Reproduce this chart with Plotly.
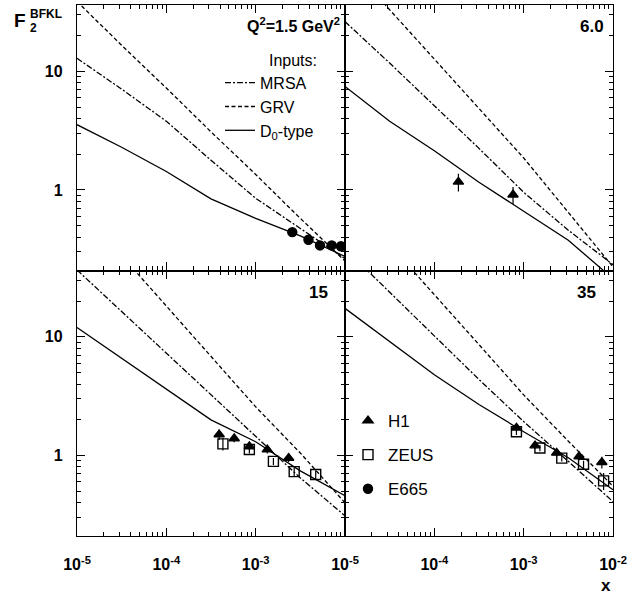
import plotly.graph_objects as go

# ---------------- data ----------------
X_CURVE = [1e-5, 3.16e-5, 1e-4, 3.16e-4, 1e-3, 3.16e-3, 1e-2]

# Q^2 = 1.5 GeV^2
MRSA_Q1 = [12.9, 7.08, 3.80, 1.78, 0.85, 0.47, 0.263]
GRV_Q1 = [38.9, 16.6, 7.24, 3.09, 1.35, 0.575, 0.251]
D0_Q1 = [3.55, 2.29, 1.43, 0.84, 0.575, 0.41, 0.275]

# Q^2 = 6.0
MRSA_Q2 = [26.3, 11.75, 5.13, 2.24, 0.955, 0.457, 0.234]
GRV_Q2 = [89.1, 33.1, 12.7, 4.85, 1.86, 0.646, 0.224]
D0_Q2 = [7.46, 3.80, 2.14, 1.16, 0.661, 0.376, 0.178]

# Q^2 = 15
MRSA_Q3 = [36.7, 16.4, 7.33, 3.25, 1.445, 0.646, 0.309]
GRV_Q3 = [129.0, 48.4, 18.2, 6.87, 2.57, 1.047, 0.398]
D0_Q3 = [12.0, 6.61, 3.63, 1.995, 1.303, 0.741, 0.457]

# Q^2 = 35
MRSA_Q4 = [55.6, 24.0, 10.2, 4.37, 1.93, 0.891, 0.407]
GRV_Q4 = [158.0, 60.3, 22.9, 8.61, 3.24, 1.318, 0.55]
D0_Q4 = [17.4, 9.12, 4.79, 2.69, 1.585, 0.955, 0.513]

PANEL_LABELS = ["<b>Q<sup>2</sup>=1.5 GeV<sup>2</sup></b>", "<b>6.0</b>", "<b>15</b>", "<b>35</b>"]

# measurements
E665_X_Q1 = [2.57e-3, 3.9e-3, 5.25e-3, 7.1e-3, 9.0e-3]
E665_Y_Q1 = [0.44, 0.38, 0.34, 0.34, 0.335]
E665_E_Q1 = [0.02, 0.02, 0.02, 0.02, 0.02]

H1_X_Q2 = [1.86e-4, 7.6e-4]
H1_Y_Q2 = [1.17, 0.91]
H1_E_Q2 = [0.2, 0.15]

H1_X_Q3 = [3.9e-4, 5.75e-4, 8.5e-4, 1.35e-3, 2.34e-3]
H1_Y_Q3 = [1.50, 1.39, 1.19, 1.12, 0.95]
H1_E_Q3 = [0.15, 0.10, 0.08, 0.08, 0.07]
ZEUS_X_Q3 = [4.3e-4, 8.5e-4, 1.58e-3, 2.7e-3, 4.7e-3]
ZEUS_Y_Q3 = [1.25, 1.12, 0.89, 0.73, 0.69]
ZEUS_E_Q3 = [0.15, 0.08, 0.06, 0.06, 0.06]

H1_X_Q4 = [8.3e-4, 1.34e-3, 2.34e-3, 4.17e-3, 7.5e-3]
H1_Y_Q4 = [1.71, 1.21, 1.05, 0.98, 0.875]
H1_E_Q4 = [0.10, 0.08, 0.07, 0.07, 0.10]
ZEUS_X_Q4 = [8.3e-4, 1.52e-3, 2.67e-3, 4.68e-3, 7.85e-3]
ZEUS_Y_Q4 = [1.585, 1.156, 0.948, 0.841, 0.61]
ZEUS_E_Q4 = [0.10, 0.07, 0.06, 0.06, 0.10]

X_TICKS = [1e-5, 1e-4, 1e-3, 1e-2]
X_TICKTEXT = ["10<sup>-5</sup>", "10<sup>-4</sup>", "10<sup>-3</sup>", "10<sup>-2</sup>"]
Y_TICKS = [1, 10]
Y_TICKTEXT = ["1", "10"]

# ---------------- figure ----------------
FONT = "Liberation Sans, Arial, Helvetica, sans-serif"
W, H = 641, 596
ML, MR, MT, MB = 77, 28, 5, 60

fig = go.Figure()

panels = [
    ("x", "y", MRSA_Q1, GRV_Q1, D0_Q1),
    ("x2", "y2", MRSA_Q2, GRV_Q2, D0_Q2),
    ("x3", "y3", MRSA_Q3, GRV_Q3, D0_Q3),
    ("x4", "y4", MRSA_Q4, GRV_Q4, D0_Q4),
]
curve_styles = [
    ("MRSA", "6px,2px,2px,2px"),
    ("GRV", "4px,2.5px"),
    ("D<sub>0</sub>-type", "solid"),
]
for i, (xa, ya, mrsa, grv, d0) in enumerate(panels):
    for (name, dash), ys in zip(curve_styles, (mrsa, grv, d0)):
        fig.add_trace(go.Scatter(
            x=X_CURVE, y=ys, xaxis=xa, yaxis=ya, mode="lines",
            line=dict(color="black", width=1.3, dash=dash),
            name=name, legend="legend",
            showlegend=(i == 0), hoverinfo="skip"))


def data_trace(xs, ys, es, xa, ya, name, symbol, show, rank):
    filled = symbol != "square-open"
    return go.Scatter(
        x=xs, y=ys, xaxis=xa, yaxis=ya, mode="markers", name=name,
        marker=dict(symbol=symbol, size=9 if filled else 10, color="black",
                    line=dict(color="black", width=1.4)),
        error_y=dict(type="data", array=es, color="black", thickness=1.2, width=0),
        legend="legend2", legendgroup=name, legendrank=rank, showlegend=show)


fig.add_trace(data_trace(E665_X_Q1, E665_Y_Q1, E665_E_Q1, "x", "y", "E665", "circle", True, 3))
fig.add_trace(data_trace(H1_X_Q2, H1_Y_Q2, H1_E_Q2, "x2", "y2", "H1", "triangle-up", False, 1))
fig.add_trace(data_trace(ZEUS_X_Q3, ZEUS_Y_Q3, ZEUS_E_Q3, "x3", "y3", "ZEUS", "square-open", False, 2))
fig.add_trace(data_trace(H1_X_Q3, H1_Y_Q3, H1_E_Q3, "x3", "y3", "H1", "triangle-up", False, 1))
fig.add_trace(data_trace(ZEUS_X_Q4, ZEUS_Y_Q4, ZEUS_E_Q4, "x4", "y4", "ZEUS", "square-open", True, 2))
fig.add_trace(data_trace(H1_X_Q4, H1_Y_Q4, H1_E_Q4, "x4", "y4", "H1", "triangle-up", True, 1))

x_minor = [m * d for d in (1e-5, 1e-4, 1e-3) for m in range(2, 10)]
y_minor = [0.3, 0.4, 0.5, 0.6, 0.7, 0.8, 0.9, 2, 3, 4, 5, 6, 7, 8, 9, 20, 30]

common = dict(type="log", showgrid=False, zeroline=False, showline=True,
              linecolor="black", linewidth=1.3, mirror="allticks",
              ticks="inside", ticklen=8, tickwidth=1.2, tickcolor="black")

x_domains = {"x": [0, 0.5], "x2": [0.5, 1], "x3": [0, 0.5], "x4": [0.5, 1]}
y_domains = {"y": [0.5, 1], "y2": [0.5, 1], "y3": [0, 0.5], "y4": [0, 0.5]}
layout_axes = {}
for k, (xa, ya, *_r) in enumerate(panels):
    xkey = "xaxis" + xa[1:]
    ykey = "yaxis" + ya[1:]
    bottom = k >= 2
    left = k % 2 == 0
    if bottom and left:
        xt, xtt = X_TICKS[:3], X_TICKTEXT[:3]
    else:
        xt, xtt = X_TICKS, X_TICKTEXT
    layout_axes[xkey] = dict(
        common, domain=x_domains[xa], range=[-5, -2], anchor=ya,
        tickmode="array", tickvals=xt, ticktext=xtt, showticklabels=bottom,
        tickfont=dict(family=FONT, size=16, color="black", weight="bold"),
        ticklabelstandoff=14,
        minor=dict(tickmode="array", tickvals=x_minor, ticks="inside",
                   ticklen=4, tickwidth=1, tickcolor="black", showgrid=False))
    layout_axes[ykey] = dict(
        common, domain=y_domains[ya], range=[-0.68, 1.56], anchor=xa,
        tickmode="array", tickvals=Y_TICKS, ticktext=Y_TICKTEXT, showticklabels=left,
        tickfont=dict(family=FONT, size=16, color="black", weight="bold"),
        ticklabelstandoff=10,
        minor=dict(tickmode="array", tickvals=y_minor, ticks="inside",
                   ticklen=4, tickwidth=1, tickcolor="black", showgrid=False))


def px_x(p):
    return (p - ML) / (W - ML - MR)


def px_y(p):
    return (H - MB - p) / (H - MT - MB)


label_pos = [(342, 25), (606, 27), (330, 292), (598, 292)]
label_size = [16, 17, 17, 17]
annotations = []
for text, (lx, ly), fs in zip(PANEL_LABELS, label_pos, label_size):
    annotations.append(dict(text=text, xref="paper", yref="paper", x=px_x(lx), y=px_y(ly),
                            xanchor="right", yanchor="middle", showarrow=False,
                            font=dict(family=FONT, size=fs, color="black")))
annotations += [
    dict(text="<b>F</b>", xref="paper", yref="paper", x=px_x(20), y=px_y(21),
         xanchor="center", yanchor="middle", showarrow=False,
         font=dict(family=FONT, size=19, color="black")),
    dict(text="<b>2</b>", xref="paper", yref="paper", x=px_x(33), y=px_y(28),
         xanchor="center", yanchor="middle", showarrow=False,
         font=dict(family=FONT, size=12, color="black")),
    dict(text="<b>BFKL</b>", xref="paper", yref="paper", x=px_x(28), y=px_y(14),
         xanchor="left", yanchor="middle", showarrow=False,
         font=dict(family=FONT, size=12, color="black")),
    dict(text="<b>x</b>", xref="paper", yref="paper", x=px_x(606), y=px_y(585),
         xanchor="center", yanchor="middle", showarrow=False,
         font=dict(family=FONT, size=17, color="black")),
]

fig.update_layout(
    width=W, height=H, margin=dict(l=ML, r=MR, t=MT, b=MB),
    paper_bgcolor="white", plot_bgcolor="white",
    font=dict(family=FONT, color="black"),
    annotations=annotations,
    legend=dict(x=px_x(220), y=px_y(45), xanchor="left", yanchor="top",
                bgcolor="rgba(0,0,0,0)", font=dict(family=FONT, size=16, color="black"),
                title=dict(text="Inputs:", side="top right",
                           font=dict(family=FONT, size=16, color="black")),
                itemwidth=30),
    legend2=dict(x=px_x(348), y=px_y(403), xanchor="left", yanchor="top",
                 bgcolor="rgba(0,0,0,0)", font=dict(family=FONT, size=17, color="black"),
                 tracegroupgap=9, itemwidth=30),
    **layout_axes,
)

fig.write_html("out.html", post_script="document.body.style.margin='0px';",
               config={"displayModeBar": False})
